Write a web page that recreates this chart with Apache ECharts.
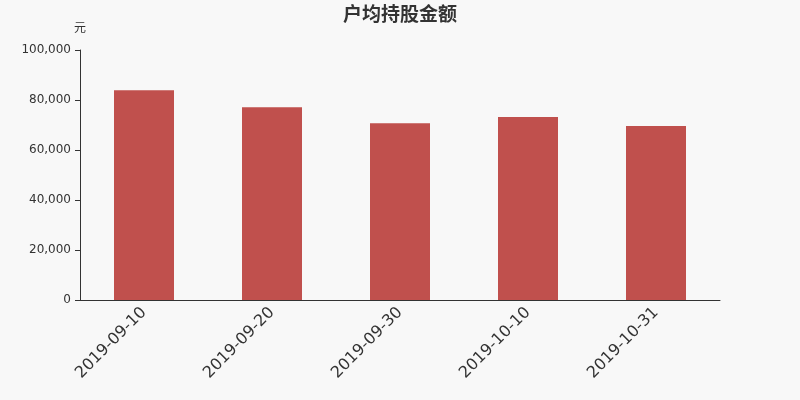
<!DOCTYPE html>
<html><head><meta charset="utf-8">
<script src="https://cdn.jsdelivr.net/npm/echarts@6/dist/echarts.min.js"></script>
<style>html,body{margin:0;padding:0;background:#f8f8f8}#c{width:800px;height:400px}</style>
</head><body><div id="c"></div>
<script>
var categories = ['2019-09-10','2019-09-20','2019-09-30','2019-10-10','2019-10-31'];
var values = [83900, 77100, 70700, 73200, 69600];
var yTickLabels = ['0','20,000','40,000','60,000','80,000','100,000'];
var chart = echarts.init(document.getElementById('c'));
chart.setOption({
  backgroundColor: '#f8f8f8',
  textStyle: { fontFamily: '"DejaVu Sans", sans-serif' },
  title: { text: '户均持股金额', left: 'center', top: 2, textStyle: { fontSize: 19, fontWeight: 'bold', color: '#333', fontFamily: '"DejaVu Sans", "Noto Sans CJK SC"' } },
  grid: { left: 80, right: 80, top: 50, bottom: 100 },
  xAxis: {
    type: 'category', data: categories,
    axisLine: { lineStyle: { color: '#333' } },
    axisTick: { lineStyle: { color: '#333' } },
    axisLabel: { rotate: 45, fontSize: 16, color: '#333', margin: 10, fontFamily: '"DejaVu Sans", sans-serif' }
  },
  yAxis: {
    type: 'value', min: 0, max: 100000, interval: 20000,
    name: '元', nameTextStyle: { color: '#333', fontSize: 12, align: 'center', fontFamily: '"DejaVu Sans", "Noto Sans CJK SC"' },
    nameGap: 15,
    axisLine: { show: true, lineStyle: { color: '#333' } },
    axisTick: { show: true, lineStyle: { color: '#333' } },
    splitLine: { show: false },
    axisLabel: {
      color: '#333', fontSize: 12, margin: 9, fontFamily: '"DejaVu Sans", sans-serif', fontWeight: 'normal',
      formatter: function (v) { return yTickLabels[Math.round(v / 20000)]; }
    }
  },
  series: [{ type: 'bar', data: values, barWidth: 60, itemStyle: { color: '#c0504d' } }]
});
</script></body></html>
